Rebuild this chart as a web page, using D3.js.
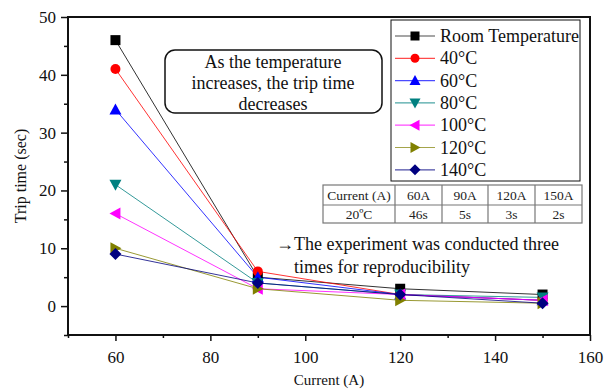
<!DOCTYPE html>
<html>
<head>
<meta charset="utf-8">
<script src="https://cdn.jsdelivr.net/npm/d3@7"></script>
<style>
  body { margin: 0; background: #fff; }
</style>
</head>
<body>
<div id="chart"></div>
<script>
// Trip time vs current at different temperatures
const currents = [60, 90, 120, 150];
const seriesNames = ["Room Temperature", "40°C", "60°C", "80°C", "100°C", "120°C", "140°C"];
const roomTemp = [46, 5, 3, 2];
const t40 = [41, 6, 2, 1];
const t60 = [34, 5, 2, 1];
const t80 = [21, 4, 2, 1.5];
const t100 = [16, 3, 2, 1];
const t120 = [10, 3, 1, 0.5];
const t140 = [9, 4, 2, 0.5];
const seriesValues = [roomTemp, t40, t60, t80, t100, t120, t140];
const colors = ["#000000", "#ff0000", "#0000ff", "#008080", "#ff00ff", "#808000", "#000080"];
const symbols = ["square", "circle", "up", "down", "left", "right", "diamond"];

const xTicks = [60, 80, 100, 120, 140, 160];
const yTicks = [0, 10, 20, 30, 40, 50];
const tableHeader = ["Current (A)", "60A", "90A", "120A", "150A"];
const tableRow = ["20ºC", "46s", "5s", "3s", "2s"];
const boxLines = ["As the temperature", "increases, the trip time", "decreases"];
const noteLines = ["→The experiment was conducted three", "times for reproducibility"];

const FONT = "Liberation Serif";

const width = 613, height = 389;
const margin = { top: 17, right: 23, bottom: 54, left: 68 };

const x = d3.scaleLinear().domain([50, 160]).range([margin.left, width - margin.right]);
const y = d3.scaleLinear().domain([-5, 50]).range([height - margin.bottom, margin.top]);

const svg = d3.select("#chart").append("svg")
    .attr("width", width)
    .attr("height", height)
    .attr("font-family", FONT);

// frame
svg.append("rect")
    .attr("x", margin.left).attr("y", margin.top)
    .attr("width", x(160) - x(50)).attr("height", y(-5) - y(50))
    .attr("fill", "none").attr("stroke", "#111").attr("stroke-width", 2);

// x axis
const xAxis = svg.append("g")
    .attr("transform", `translate(0,${y(-5)})`)
    .call(d3.axisBottom(x).tickValues(xTicks).tickSize(6).tickPadding(10))
    .call(g => g.select(".domain").remove())
    .attr("font-family", FONT);
xAxis.selectAll("text").attr("font-size", 17).attr("fill", "#111");
xAxis.selectAll("line").attr("stroke", "#111").attr("stroke-width", 1.5);
svg.append("g")
    .attr("transform", `translate(0,${y(-5)})`)
    .call(d3.axisBottom(x).tickValues(d3.range(50, 160, 20)).tickSize(3).tickFormat(""))
    .call(g => g.select(".domain").remove())
    .selectAll("line").attr("stroke", "#111").attr("stroke-width", 1.5);

// y axis
const yAxis = svg.append("g")
    .attr("transform", `translate(${margin.left},0)`)
    .call(d3.axisLeft(y).tickValues(yTicks).tickSize(7).tickPadding(5))
    .call(g => g.select(".domain").remove())
    .attr("font-family", FONT);
yAxis.selectAll("text").attr("font-size", 17).attr("fill", "#111");
yAxis.selectAll("line").attr("stroke", "#111").attr("stroke-width", 1.5);
svg.append("g")
    .attr("transform", `translate(${margin.left},0)`)
    .call(d3.axisLeft(y).tickValues([-5, 5, 15, 25, 35, 45]).tickSize(4).tickFormat(""))
    .call(g => g.select(".domain").remove())
    .selectAll("line").attr("stroke", "#111").attr("stroke-width", 1.5);

// axis titles
svg.append("text")
    .attr("x", (x(50) + x(160)) / 2).attr("y", 385)
    .attr("text-anchor", "middle").attr("font-size", 15).attr("fill", "#111")
    .text("Current (A)");
svg.append("text")
    .attr("transform", `translate(26,${(y(-5) + y(50)) / 2}) rotate(-90)`)
    .attr("text-anchor", "middle").attr("font-size", 16).attr("fill", "#111")
    .text("Trip time (sec)");

// marker shapes
function markerPath(kind, s) {
    const h = s / 2;
    switch (kind) {
        case "square": return `M${-h},${-h}H${h}V${h}H${-h}Z`;
        case "circle": return d3.symbol(d3.symbolCircle, Math.PI * h * h)();
        case "up": return `M0,${-h - 1}L${h + 1},${h}L${-h - 1},${h}Z`;
        case "down": return `M0,${h + 1}L${h + 1},${-h}L${-h - 1},${-h}Z`;
        case "left": return `M${-h - 1},0L${h},${-h - 1}L${h},${h + 1}Z`;
        case "right": return `M${h + 1},0L${-h},${-h - 1}L${-h},${h + 1}Z`;
        case "diamond": return `M0,${-h - 1}L${h + 1},0L0,${h + 1}L${-h - 1},0Z`;
    }
}

const line = d3.line().x(d => x(d.c)).y(d => y(d.v));

const series = seriesNames.map((name, i) => ({
    name, color: colors[i], symbol: symbols[i],
    points: currents.map((c, j) => ({ c, v: seriesValues[i][j] }))
}));

// draw lines first, then markers
svg.append("g").selectAll("path")
    .data(series)
    .join("path")
    .attr("d", d => line(d.points))
    .attr("fill", "none")
    .attr("stroke", d => d.color)
    .attr("stroke-width", 1)
    .attr("opacity", 0.8);

series.forEach(s => {
    svg.append("g").selectAll("path")
        .data(s.points)
        .join("path")
        .attr("transform", d => `translate(${x(d.c)},${y(d.v)})`)
        .attr("d", markerPath(s.symbol, 10))
        .attr("fill", s.color);
});

// annotation box
svg.append("rect")
    .attr("x", 165).attr("y", 50).attr("width", 217).attr("height", 63)
    .attr("rx", 10).attr("fill", "#fff").attr("stroke", "#111").attr("stroke-width", 1.5);
svg.append("g").selectAll("text")
    .data(boxLines)
    .join("text")
    .attr("x", 273).attr("y", (d, i) => 68 + i * 21)
    .attr("text-anchor", "middle").attr("font-size", 18).attr("fill", "#111")
    .text(d => d);

// legend
svg.append("rect")
    .attr("x", 391).attr("y", 20).attr("width", 189).attr("height", 161)
    .attr("fill", "#fff").attr("stroke", "#111").attr("stroke-width", 1);
const leg = svg.append("g").selectAll("g")
    .data(series)
    .join("g")
    .attr("transform", (d, i) => `translate(0,${36 + i * 22.3})`);
leg.append("line")
    .attr("x1", 395).attr("x2", 435)
    .attr("stroke", d => d.color).attr("stroke-width", 1.2).attr("opacity", 0.7);
leg.append("path")
    .attr("transform", "translate(415,0)")
    .attr("d", d => markerPath(d.symbol, 9))
    .attr("fill", d => d.color);
leg.append("text")
    .attr("x", 440).attr("y", 6)
    .attr("font-size", 18).attr("fill", "#111")
    .text(d => d.name);

// table
const colEdges = [323, 395, 442, 488, 535, 582];
const rowEdges = [185, 205, 223];
const table = svg.append("g");
table.append("rect")
    .attr("x", colEdges[0]).attr("y", rowEdges[0])
    .attr("width", colEdges[5] - colEdges[0]).attr("height", rowEdges[2] - rowEdges[0])
    .attr("fill", "#fff").attr("stroke", "#777").attr("stroke-width", 1.2);
table.append("line")
    .attr("x1", colEdges[0]).attr("x2", colEdges[5])
    .attr("y1", rowEdges[1]).attr("y2", rowEdges[1])
    .attr("stroke", "#777").attr("stroke-width", 1.2);
table.selectAll(".vline")
    .data(colEdges.slice(1, 5))
    .join("line")
    .attr("x1", d => d).attr("x2", d => d)
    .attr("y1", rowEdges[0]).attr("y2", rowEdges[2])
    .attr("stroke", "#777").attr("stroke-width", 1.2);
[tableHeader, tableRow].forEach((row, r) => {
    table.append("g").selectAll("text")
        .data(row)
        .join("text")
        .attr("x", (d, i) => (colEdges[i] + colEdges[i + 1]) / 2)
        .attr("y", (rowEdges[r] + rowEdges[r + 1]) / 2 + 4.5)
        .attr("text-anchor", "middle").attr("font-size", 13.5).attr("fill", "#222")
        .text(d => d);
});

// note
svg.append("g").selectAll("text")
    .data(noteLines)
    .join("text")
    .attr("x", (d, i) => i === 0 ? 276 : 294)
    .attr("y", (d, i) => 250 + i * 23)
    .attr("font-size", 18).attr("fill", "#111")
    .text(d => d);
</script>
</body>
</html>
